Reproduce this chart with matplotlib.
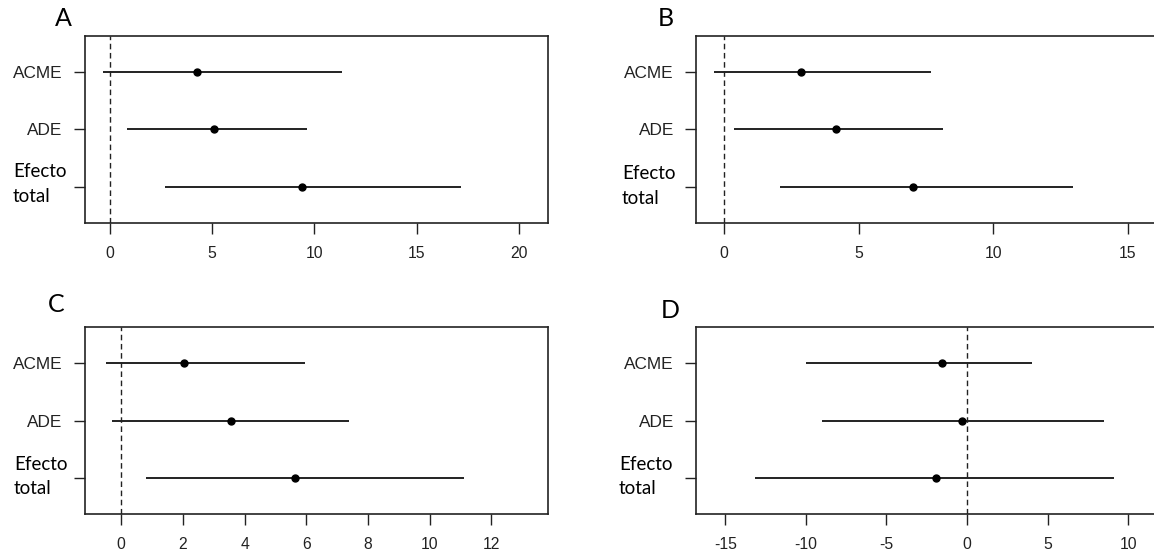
import matplotlib
matplotlib.use("Agg")
import matplotlib.pyplot as plt

plt.rcParams['axes.unicode_minus'] = False
plt.rcParams['font.family'] = ['Liberation Sans', 'DejaVu Sans']

# data (estimate, lower, upper)
rows = ['ACME', 'ADE', 'Efecto total']

a_est = [4.28, 5.11, 9.39]
a_lo = [-0.32, 0.85, 2.70]
a_hi = [11.33, 9.66, 17.15]

b_est = [2.85, 4.17, 7.02]
b_lo = [-0.37, 0.38, 2.09]
b_hi = [7.69, 8.14, 12.95]

c_est = [2.03, 3.56, 5.63]
c_lo = [-0.51, -0.30, 0.81]
c_hi = [5.95, 7.40, 11.10]

d_est = [-1.58, -0.34, -1.92]
d_lo = [-9.99, -9.00, -13.18]
d_hi = [4.03, 8.48, 9.14]

a_ticks = [0, 5, 10, 15, 20]
b_ticks = [0, 5, 10, 15]
c_ticks = [0, 2, 4, 6, 8, 10, 12]
d_ticks = [-15, -10, -5, 0, 5, 10]

W, H = 1154, 558
fig = plt.figure(figsize=(W / 100, H / 100), dpi=100)


def px_axes(left, top, right, bottom):
    return fig.add_axes([left / W, 1 - bottom / H, (right - left) / W, (bottom - top) / H])


def panel(box, xlim, ticks, est, lo, hi, letter, letter_xy, efecto_x, efecto_y):
    ax = px_axes(*box)
    ypos = [3, 2, 1]
    ax.hlines(ypos, lo, hi, color='#222222', lw=1.4)
    ax.plot(est, ypos, 'o', color='black', ms=5)
    ax.axvline(0, color='#222222', lw=1.0, linestyle=(0, (4.0, 2.6)))
    ax.set_xticks(ticks)
    ax.set_xticklabels([str(t) for t in ticks])
    ax.set_xlim(*xlim)
    ax.set_ylim(0.38, 3.62)
    ax.set_yticks(ypos)
    ax.set_yticklabels(['ACME', 'ADE', ''])
    ax.tick_params(axis='x', length=7.9, width=1.0, pad=9, labelsize=11.3, colors='#222222')
    ax.tick_params(axis='y', length=7.9, width=1.0, pad=7.9, labelsize=12.4, colors='#222222')
    for s in ax.spines.values():
        s.set_linewidth(1.2)
        s.set_color('#222222')
    fig.text(letter_xy[0] / W, 1 - letter_xy[1] / H, letter, family=['Lato', 'DejaVu Sans'],
             fontsize=18, ha='left', va='baseline', color='black')
    words = rows[2].split(' ')
    fig.text(efecto_x / W, 1 - efecto_y / H, words[0], family=['Lato', 'DejaVu Sans'],
             fontsize=13.5, ha='left', va='baseline', color='black')
    fig.text(efecto_x / W, 1 - (efecto_y + 24.4) / H, words[1], family=['Lato', 'DejaVu Sans'],
             fontsize=13.5, ha='left', va='baseline', color='black')
    return ax


panel((84.6, 36, 548.3, 222.7), (-1.23, 21.44), a_ticks, a_est, a_lo, a_hi,
      'A', (54.5, 26), 12.9, 177.3)
panel((695.9, 36, 1162, 222.7), (-1.05, 16.27), b_ticks, b_est, b_lo, b_hi,
      'B', (658.0, 26), 621.9, 179.3)
panel((84.6, 327.3, 548.3, 514), (-1.19, 13.85), c_ticks, c_est, c_lo, c_hi,
      'C', (48.2, 312), 14.0, 469.7)
panel((695.9, 327.3, 1162, 514), (-16.83, 12.1), d_ticks, d_est, d_lo, d_hi,
      'D', (661.0, 318.3), 619.0, 469.7)

fig.savefig('out.png', dpi=100, facecolor='white')
